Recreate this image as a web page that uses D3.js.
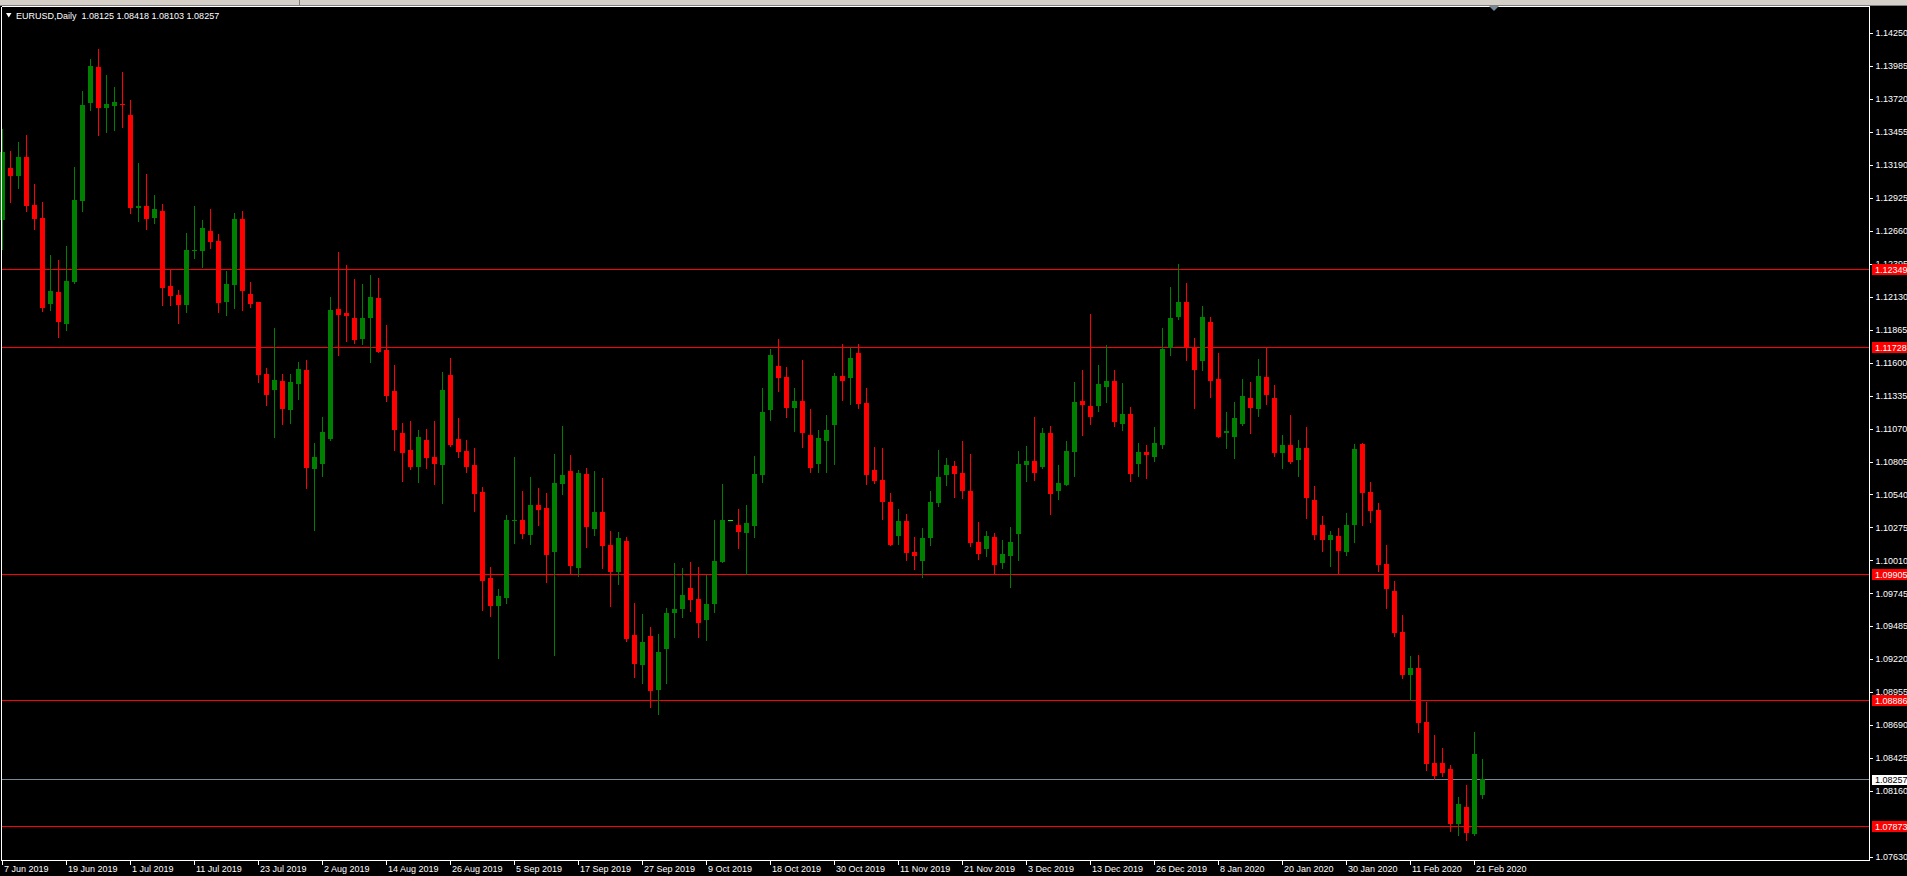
<!DOCTYPE html>
<html><head><meta charset="utf-8">
<script src="https://cdn.jsdelivr.net/npm/d3@7"></script>
<style>html,body{margin:0;padding:0;background:#000;overflow:hidden}</style>
</head><body><script>
// ---- data (EURUSD daily) ----
const symbolTitle = "EURUSD,Daily  1.08125 1.08418 1.08103 1.08257";
const opens = [1.12745,1.13163,1.13101,1.13251,1.12866,1.12761,1.12073,1.12167,1.11912,1.12250,
1.12900,1.13688,1.13974,1.13647,1.13664,1.13677,1.13589,1.12844,1.12858,1.12764,
1.12818,1.12215,1.12143,1.12065,1.12499,1.12499,1.12657,1.12577,1.12089,1.12225,
1.12753,1.12151,1.12086,1.11508,1.11379,1.11452,1.11219,1.11428,1.11540,1.10745,
1.10785,1.10986,1.12030,1.11998,1.11958,1.11792,1.11960,1.12119,1.11701,1.11371,
1.11034,1.10897,1.10763,1.10978,1.10841,1.10779,1.11500,1.10986,1.10889,1.10777,
1.10560,1.09869,1.09647,1.09711,1.10329,1.10335,1.10217,1.10455,1.10431,1.10080,
1.10627,1.10729,1.09952,1.10705,1.10265,1.10399,1.10134,1.09920,1.10166,1.09411,
1.09173,1.09403,1.08972,1.09301,1.09590,1.09622,1.09789,1.09700,1.09532,1.09660,
1.10000,1.10333,1.10295,1.10233,1.10289,1.10699,1.11221,1.11572,1.11484,1.11237,
1.11291,1.11018,1.10787,1.10972,1.11101,1.11492,1.11478,1.11677,1.11275,1.10737,
1.10656,1.10480,1.10209,1.10327,1.10078,1.10008,1.10193,1.10474,1.10699,1.10769,
1.10713,1.10568,1.10158,1.10104,1.10198,1.09992,1.10048,1.10225,1.10779,1.10809,
1.10763,1.11034,1.10570,1.10619,1.10884,1.11291,1.11251,1.11253,1.11406,1.11452,
1.11109,1.11187,1.10787,1.10881,1.10844,1.10940,1.11719,1.11968,1.12086,1.11725,
1.11615,1.11926,1.11468,1.11036,1.11004,1.11109,1.11315,1.11229,1.11484,1.11315,
1.10876,1.10938,1.10819,1.10914,1.10496,1.10295,1.10177,1.10207,1.10080,1.10297,
1.10946,1.10560,1.10415,1.09982,1.09765,1.09435,1.09090,1.09146,1.08712,1.08383,
1.08383,1.08335,1.07893,1.08029,1.07812,1.08125];
const highs = [1.13476,1.13300,1.13372,1.13426,1.13034,1.12890,1.12464,1.12424,1.12536,1.13171,
1.13782,1.14039,1.14119,1.13910,1.13814,1.13934,1.13709,1.13203,1.13115,1.12946,
1.12874,1.12346,1.12183,1.12641,1.12858,1.12743,1.12834,1.12633,1.12336,1.12802,
1.12818,1.12247,1.12090,1.11559,1.11875,1.11508,1.11508,1.11604,1.11620,1.10954,
1.11163,1.12127,1.12488,1.12384,1.12271,1.12231,1.12303,1.12279,1.11902,1.11580,
1.11114,1.11130,1.11058,1.11066,1.11130,1.11524,1.11637,1.11155,1.10978,1.10914,
1.10600,1.09957,1.09781,1.10375,1.10841,1.10568,1.10681,1.10592,1.10552,1.10865,
1.11090,1.10857,1.10737,1.10753,1.10729,1.10672,1.10247,1.10239,1.10198,1.09668,
1.09580,1.09475,1.09419,1.09628,1.09990,1.09949,1.09998,1.09957,1.09893,1.10335,
1.10624,1.10333,1.10423,1.10455,1.10849,1.11396,1.11709,1.11789,1.11564,1.11396,
1.11620,1.11227,1.11058,1.11179,1.11516,1.11749,1.11717,1.11749,1.11396,1.10922,
1.10914,1.10552,1.10423,1.10383,1.10198,1.10271,1.10568,1.10897,1.10833,1.10809,
1.10970,1.10865,1.10319,1.10247,1.10231,1.10174,1.10279,1.10889,1.10930,1.11163,
1.11074,1.11090,1.10777,1.10970,1.11444,1.11540,1.11990,1.11580,1.11741,1.11540,
1.11436,1.11243,1.10954,1.10938,1.11082,1.11878,1.12207,1.12392,1.12239,1.11797,
1.12054,1.11966,1.11677,1.11203,1.11283,1.11468,1.11444,1.11629,1.11717,1.11420,
1.11018,1.11179,1.10978,1.11082,1.10608,1.10367,1.10247,1.10271,1.10391,1.10946,
1.10950,1.10640,1.10472,1.10134,1.09845,1.09572,1.09242,1.09250,1.08873,1.08608,
1.08503,1.08367,1.08110,1.08206,1.08632,1.08418];
const lows = [1.12512,1.12892,1.13005,1.12820,1.12675,1.12017,1.12025,1.11808,1.11864,1.12242,
1.12820,1.13631,1.13431,1.13455,1.13471,1.13495,1.12804,1.12740,1.12675,1.12724,
1.12062,1.12065,1.11920,1.12009,1.12442,1.12370,1.12523,1.12009,1.11984,1.12041,
1.12025,1.12049,1.11446,1.11259,1.11004,1.11106,1.11114,1.11307,1.10595,1.10257,
1.10691,1.10980,1.11661,1.11776,1.11759,1.11751,1.11607,1.11685,1.11293,1.10900,
1.10651,1.10747,1.10643,1.10755,1.10627,1.10474,1.10932,1.10844,1.10723,1.10410,
1.09614,1.09566,1.09229,1.09671,1.10153,1.10193,1.10145,1.10297,1.09839,1.09253,
1.10546,1.09912,1.09888,1.10121,1.10217,1.09952,1.09647,1.09823,1.09365,1.09076,
1.09028,1.08835,1.08779,1.09028,1.09398,1.09558,1.09606,1.09398,1.09371,1.09596,
1.09998,1.10333,1.10113,1.09901,1.10201,1.10643,1.11141,1.11374,1.11165,1.11053,
1.10924,1.10723,1.10723,1.10723,1.10787,1.11302,1.11269,1.11237,1.10627,1.10635,
1.10346,1.10135,1.10145,1.10016,1.09944,1.09880,1.10137,1.10450,1.10619,1.10522,
1.10514,1.10129,1.10024,1.10048,1.09912,1.09952,1.09799,1.10016,1.10651,1.10659,
1.10755,1.10386,1.10506,1.10615,1.10691,1.11020,1.11109,1.11213,1.11285,1.11093,
1.11061,1.10651,1.10691,1.10675,1.10811,1.10916,1.11663,1.11952,1.11623,1.11237,
1.11543,1.11326,1.11004,1.10916,1.10836,1.11101,1.11036,1.11173,1.11269,1.10852,
1.10755,1.10795,1.10691,1.10354,1.10185,1.10088,1.09968,1.09912,1.10056,1.10161,
1.10297,1.10321,1.09928,1.09628,1.09403,1.09068,1.08889,1.08632,1.08327,1.08254,
1.08278,1.07836,1.07804,1.07764,1.07804,1.08103];
const closes = [1.13292,1.13101,1.13251,1.12860,1.12753,1.12041,1.12175,1.11928,1.12255,1.12906,
1.13669,1.13983,1.13647,1.13677,1.13693,1.13671,1.12844,1.12860,1.12753,1.12834,
1.12201,1.12137,1.12065,1.12504,1.12504,1.12681,1.12571,1.12081,1.12231,1.12753,
1.12177,1.12073,1.11500,1.11339,1.11460,1.11227,1.11444,1.11548,1.10753,1.10841,
1.11042,1.12022,1.11982,1.11976,1.11784,1.11958,1.12127,1.11687,1.11334,1.11061,
1.10876,1.10763,1.11002,1.10836,1.10787,1.11379,1.10940,1.10884,1.10763,1.10546,
1.09847,1.09647,1.09724,1.10335,1.10337,1.10225,1.10455,1.10418,1.10056,1.10632,
1.10697,1.09968,1.10713,1.10281,1.10399,1.10129,1.09920,1.10190,1.09381,1.09181,
1.09355,1.08964,1.09275,1.09588,1.09620,1.09733,1.09695,1.09510,1.09660,1.10006,
1.10335,1.10333,1.10241,1.10311,1.10705,1.11203,1.11661,1.11478,1.11237,1.11291,
1.11036,1.10755,1.10994,1.11058,1.11492,1.11454,1.11637,1.11269,1.10699,1.10651,
1.10482,1.10137,1.10327,1.10072,1.10048,1.10190,1.10480,1.10681,1.10777,1.10707,
1.10570,1.10150,1.10064,1.10207,1.09976,1.10062,1.10158,1.10785,1.10809,1.10715,
1.11034,1.10546,1.10632,1.10889,1.11283,1.11261,1.11165,1.11428,1.11452,1.11125,
1.11187,1.10707,1.10881,1.10860,1.10954,1.11709,1.11958,1.12086,1.11719,1.11543,
1.11966,1.11454,1.11004,1.11050,1.11155,1.11331,1.11237,1.11492,1.11342,1.10876,
1.10938,1.10803,1.10914,1.10514,1.10217,1.10177,1.10215,1.10088,1.10295,1.10905,
1.10554,1.10410,1.09976,1.09781,1.09427,1.09090,1.09146,1.08704,1.08375,1.08278,
1.08302,1.07893,1.08053,1.07820,1.08455,1.08257];
const dateLabels = ["7 Jun 2019","19 Jun 2019","1 Jul 2019","11 Jul 2019","23 Jul 2019","2 Aug 2019",
"14 Aug 2019","26 Aug 2019","5 Sep 2019","17 Sep 2019","27 Sep 2019","9 Oct 2019","18 Oct 2019",
"30 Oct 2019","11 Nov 2019","21 Nov 2019","3 Dec 2019","13 Dec 2019","26 Dec 2019","8 Jan 2020",
"20 Jan 2020","30 Jan 2020","11 Feb 2020","21 Feb 2020"];
const dateLabelBars = [0,8,16,24,32,40,48,56,64,72,80,88,96,104,112,120,128,136,144,152,160,168,176,184];
const priceTickLabels = ["1.14250","1.13985","1.13720","1.13455","1.13190","1.12925","1.12660","1.12395",
"1.12130","1.11865","1.11600","1.11335","1.11070","1.10805","1.10540","1.10275","1.10010","1.09745",
"1.09485","1.09220","1.08955","1.08690","1.08425","1.08160","1.07630"];
const levelLines = [1.12349, 1.11728, 1.09905, 1.08886, 1.07873];
const levelLabels = ["1.12349","1.11728","1.09905","1.08886","1.07873"];
const bidPrice = 1.08257;
const bidLabel = "1.08257";
const priceMin = 1.07630, priceMax = 1.14250;

// ---- layout ----
const W = 1907, H = 876;
const plotL = 1.5, plotR = 1869.5, plotT = 6.5, plotB = 860.5;
const FONT = "'Liberation Sans', Arial, sans-serif";
const GREEN = "#008000", RED = "#ff0000", LIME = "#00ff00";

const svg = d3.select("body").append("svg")
  .attr("width", W).attr("height", H)
  .style("display", "block").style("background", "#000")
  .attr("shape-rendering", "crispEdges");

// top window strip
svg.append("rect").attr("x",0).attr("y",0).attr("width",W).attr("height",5).attr("fill","#d4d0c8");
svg.append("rect").attr("x",0).attr("y",5).attr("width",W).attr("height",1).attr("fill","#808080");
svg.append("rect").attr("x",299).attr("y",0).attr("width",1).attr("height",5).attr("fill","#808080");

const n = opens.length;
const x = d3.scaleLinear().domain([0, n - 1]).range([2.5, 2.5 + 8 * (n - 1)]);
const y = d3.scaleLinear().domain([priceMin, priceMax]).range([856.7, 32.7]);

const bars = opens.map((o, i) => ({i, o, h: highs[i], l: lows[i], c: closes[i]}));
const colorOf = d => d.c > d.o ? GREEN : (d.c < d.o ? RED : LIME);

const plot = svg.append("g");
// horizontal level lines
plot.selectAll("line.level").data(levelLines).join("line")
  .attr("x1", plotL).attr("x2", plotR)
  .attr("y1", d => Math.round(y(d)) + 0.5).attr("y2", d => Math.round(y(d)) + 0.5)
  .attr("stroke", RED).attr("stroke-width", 1);
// bid line
plot.append("line").attr("x1", plotL).attr("x2", plotR)
  .attr("y1", Math.round(y(bidPrice)) + 0.5).attr("y2", Math.round(y(bidPrice)) + 0.5)
  .attr("stroke", "#778899").attr("stroke-width", 1);

// wicks
plot.selectAll("rect.wick").data(bars.filter(d => d.h !== d.l)).join("rect")
  .attr("x", d => Math.round(x(d.i) - 0.5))
  .attr("y", d => Math.round(y(d.h)))
  .attr("width", 1)
  .attr("height", d => Math.max(1, Math.round(y(d.l)) - Math.round(y(d.h)) + 1))
  .attr("fill", colorOf);
// bodies
plot.selectAll("rect.body").data(bars).join("rect")
  .attr("x", d => Math.round(x(d.i) - 2.5))
  .attr("y", d => Math.round(y(Math.max(d.o, d.c))))
  .attr("width", 5)
  .attr("height", d => Math.max(1, Math.round(y(Math.min(d.o, d.c))) - Math.round(y(Math.max(d.o, d.c)))))
  .attr("fill", colorOf);

// frame
const frame = svg.append("g").attr("stroke", "#fff").attr("stroke-width", 1).attr("fill", "none");
frame.append("line").attr("x1", plotL).attr("x2", plotR).attr("y1", plotT).attr("y2", plotT);
frame.append("line").attr("x1", plotL).attr("x2", plotL).attr("y1", plotT).attr("y2", plotB);
frame.append("line").attr("x1", plotR).attr("x2", plotR).attr("y1", plotT).attr("y2", plotB);
frame.append("line").attr("x1", plotL).attr("x2", plotR).attr("y1", plotB).attr("y2", plotB);

// right price axis
const yAxis = d3.axisRight(y)
  .tickValues(priceTickLabels.map(Number))
  .tickFormat((d, i) => priceTickLabels[i])
  .tickSize(3).tickPadding(3);
const ya = svg.append("g").attr("transform", `translate(${plotR},0)`).call(yAxis);
ya.select(".domain").remove();
ya.selectAll(".tick line").attr("stroke", "#fff");
ya.selectAll(".tick text").attr("fill", "#fff").style("font-family", FONT).style("font-size", "9px");

// bottom date axis
const xAxis = d3.axisBottom(x)
  .tickValues(dateLabelBars)
  .tickFormat((d, i) => dateLabels[i])
  .tickSize(4);
const xa = svg.append("g").attr("transform", `translate(0,${plotB})`).call(xAxis);
xa.select(".domain").remove();
xa.selectAll(".tick line").attr("stroke", "#fff").attr("transform", "translate(-0.5,0)");
xa.selectAll(".tick text").attr("fill", "#fff").attr("text-anchor", "start")
  .attr("x", 1).attr("y", 5).style("font-family", FONT).style("font-size", "9px");

// price labels of the lines
const lab = svg.append("g");
levelLines.forEach((v, i) => {
  const yy = Math.round(y(v));
  lab.append("rect").attr("x", 1872).attr("y", yy - 5).attr("width", 35).attr("height", 11).attr("fill", RED);
  lab.append("text").attr("x", 1875).attr("y", yy + 0.5).attr("dy", "0.35em")
    .attr("fill", "#fff").style("font-family", FONT).style("font-size", "9px").text(levelLabels[i]);
});
{
  const yy = Math.round(y(bidPrice));
  lab.append("rect").attr("x", 1872).attr("y", yy - 4).attr("width", 35).attr("height", 10).attr("fill", "#fff");
  lab.append("text").attr("x", 1875).attr("y", yy + 1).attr("dy", "0.35em")
    .attr("fill", "#000").style("font-family", FONT).style("font-size", "9px").text(bidLabel);
}

// chart shift marker
svg.append("path").attr("d", "M1489,6 L1499,6 L1494,11 Z").attr("fill", "#778899").attr("shape-rendering", "auto");

// title
svg.append("path").attr("d", "M6,13 L11.5,13 L8.75,17.5 Z").attr("fill", "#fff").attr("shape-rendering", "auto");
svg.append("text").attr("x", 16).attr("y", 19).attr("fill", "#fff")
  .style("font-family", FONT).style("font-size", "9px").style("white-space", "pre")
  .attr("xml:space", "preserve").text(symbolTitle);
</script></body></html>
